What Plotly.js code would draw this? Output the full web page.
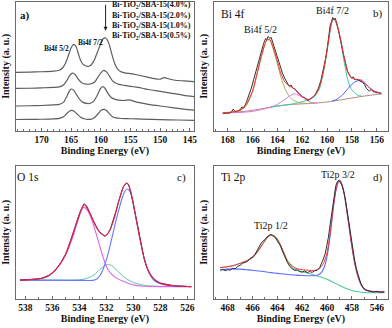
<!DOCTYPE html>
<html>
<head>
<meta charset="utf-8">
<script src="https://cdn.plot.ly/plotly-3.0.1.min.js"></script>
<style>
  html, body { margin: 0; padding: 0; background: #fff; }
  #xps-figure { width: 392px; height: 328px; }
</style>
</head>
<body>
<div id="xps-figure"></div>
<script>
/**
 * XPS spectra, 4 panels: a) Bi 4f survey for four loadings, b) Bi 4f fit,
 * c) O 1s fit, d) Ti 2p fit. Values are [binding energy (eV), intensity (a.u.)].
 */

// ---- a) Bi 4f, Bi-TiO2/SBA-15 series ----
const aLabels = ['4.0%', '2.0%', '1.0%', '0.5%'];
const aSpec40 = [[174.3,45.3],[172,45.5],[170,45.8],[168,46.3],[167,47.0],[166.5,48.5],[166,52],[165.5,58],[165,64.5],[164.6,67],[164.2,65.5],[163.8,60],[163.4,54.5],[163,51.5],[162.6,50.5],[162.2,50],[161.8,50.5],[161.4,52.5],[161,56],[160.5,62],[160,68],[159.6,71.5],[159.2,72],[158.8,69.5],[158.4,64],[158,57],[157.6,51.5],[157.2,48],[156.7,46],[156,45],[155,44.3],[154,43.5],[153,42.5],[152,41.5],[151,40.5],[150,40],[149.3,41.3],[148.5,40.2],[147.5,39.2],[146,38.7],[144.3,38.2]];
const aSpec20 = [[174.3,32.9],[172,33],[170,33.3],[168,33.6],[167,34],[166.3,35.5],[165.8,38.5],[165.3,42.5],[164.8,44.7],[164.3,43.5],[163.8,40],[163.3,37.5],[162.8,36.5],[162.2,36.1],[161.6,36.5],[161,38],[160.5,41.5],[160,45],[159.5,46.8],[159,45.5],[158.5,42],[158,38.5],[157.5,37],[157,36],[156,35.2],[155,34.5],[154,33.8],[153,33],[152,32],[150,30.5],[148,29],[146,27.5],[144.3,26.5]];
const aSpec10 = [[174.3,19.2],[172,19.4],[170,19.6],[168,20],[167,20.5],[166.3,22],[165.8,26],[165.3,31],[165,32.4],[164.6,31.5],[164.1,28],[163.6,24.5],[163,22],[162.4,21.2],[161.8,21.3],[161.2,23],[160.6,27.5],[160.1,32.5],[159.7,34.2],[159.3,33],[158.8,29],[158.3,26],[157.8,24.7],[157,23.8],[156,23.5],[155.2,24],[154.5,23],[153.5,21.8],[152,20.5],[150,19.2],[148,18],[146,16.8],[144.3,16]];
const aSpec05 = [[174.3,8.7],[172,8.8],[170,8.9],[168,9.2],[167,9.6],[166.3,10.8],[165.8,13],[165.3,15.2],[164.9,15.8],[164.5,15.2],[164,13],[163.4,10.5],[162.8,9.3],[162.2,8.8],[161.6,9],[161,10.5],[160.4,13.5],[159.9,16],[159.5,16.6],[159.1,15.8],[158.6,13.5],[158.1,11],[157.5,10],[156.5,9.5],[155,9.3],[153,9],[150,8.6],[147,8.3],[144.3,8]];

// ---- b) Bi 4f fit ----
const bRaw = [[168.35,13.2],[168.1,13.8],[167.9,13.5],[167.7,14.5],[167.55,16.8],[167.4,14.6],[167.2,15.5],[167,16.2],[166.85,18.5],[166.7,17.6],[166.5,22],[166.3,27],[166.1,33],[165.9,40],[165.7,47],[165.5,55],[165.3,62],[165.1,68],[164.95,71.5],[164.85,70.8],[164.75,73.2],[164.6,71.8],[164.5,72.5],[164.35,68],[164.2,62.5],[164,57],[163.8,50],[163.6,45],[163.4,40.5],[163.2,36.5],[163.05,34.5],[162.9,35.5],[162.75,33],[162.6,32.6],[162.45,30.5],[162.3,28.8],[162.1,27.5],[161.95,26],[161.8,25.8],[161.65,24.2],[161.5,23.5],[161.35,24.6],[161.2,25.4],[161.05,27],[160.9,29],[160.7,33],[160.5,39],[160.3,47],[160.1,57],[159.95,67],[159.85,76],[159.75,82],[159.65,84.5],[159.55,88],[159.45,86],[159.35,87.5],[159.2,83],[159.05,77],[158.9,70],[158.7,60],[158.5,52],[158.35,46],[158.2,43.5],[158.05,41],[157.9,41.8],[157.75,39.5],[157.6,40],[157.45,39.2],[157.3,38.5],[157.15,37.5],[157,36],[156.85,33],[156.7,31.5],[156.6,30.8],[156.45,32],[156.3,30.4],[156.1,29.8],[155.9,29.5],[155.7,29.2]];
const bBackground = [[168.4,13.8],[167.5,14.3],[166.5,15.2],[165.5,16.6],[164.5,18.4],[163.5,19.8],[162.5,20.6],[161.5,21.1],[160.5,21.8],[159.5,23],[158.5,24.6],[157.5,26.2],[156.5,27.6],[155.6,28.6]];
const bPeak52 = [[168.4,13.8],[167.5,14.5],[167,15.5],[166.5,19.5],[166,30],[165.6,45],[165.3,57],[165,67],[164.85,70.5],[164.6,70],[164.3,62],[164,52],[163.7,41],[163.4,33],[163.1,27.5],[162.8,24.3],[162.4,22.3],[162,21.5],[161.5,21.2],[161,21.5]];
const bPeakLow = [[168.4,13.8],[167,14.2],[166,15],[165,17],[164.5,18.5],[164,20.5],[163.5,23.5],[163,27],[162.7,28.6],[162.4,28],[162,26],[161.6,23.5],[161.2,21.8],[160.8,21.5]];
const bPeak72 = [[164.5,18.4],[163.5,19.8],[162.8,20.8],[162,22.5],[161.4,24.5],[161,26.5],[160.6,33],[160.3,45],[160,62],[159.8,75],[159.65,83],[159.5,86.5],[159.35,85.5],[159.1,78],[158.85,66],[158.6,52],[158.35,40],[158.1,33],[157.8,29.5],[157.5,27.5],[157.2,26.8]];
const bPeakHigh = [[159.6,23],[159.2,24.5],[158.8,27.5],[158.3,33],[157.9,37],[157.5,39],[157.2,38.5],[156.9,36],[156.6,33.5],[156.2,30.8],[155.8,29.5],[155.6,29]];
const bEnvelope = [[168.4,13.8],[167.5,14.8],[167,16],[166.5,20.5],[166,31],[165.6,46],[165.3,57.5],[165,67.5],[164.8,71],[164.6,70.8],[164.3,63.5],[164,54],[163.7,44],[163.4,38],[163.1,35],[162.8,33.5],[162.5,31.5],[162.2,28.5],[161.9,26],[161.6,24.5],[161.4,24.3],[161.1,26.5],[160.8,30],[160.6,34.5],[160.3,46],[160,62.5],[159.8,75.5],[159.65,83.5],[159.5,87],[159.35,86],[159.1,79],[158.85,68],[158.6,55.5],[158.35,46],[158.1,41.5],[157.8,40],[157.5,39.8],[157.2,39],[156.9,36.5],[156.6,33.5],[156.2,30.5],[155.7,29.3]];

// ---- c) O 1s fit ----
const cRaw = [[538.4,14.2],[538,14.5],[537.6,14.3],[537.2,15],[536.8,15.5],[536.5,16.5],[536.2,18],[535.9,20.5],[535.6,24],[535.3,28.5],[535,34],[534.7,42.5],[534.4,52],[534.1,61],[533.9,66.5],[533.75,69.5],[533.65,71.5],[533.55,70.5],[533.4,68],[533.2,64],[533,59.5],[532.8,55],[532.6,51.5],[532.4,49.5],[532.25,48],[532.1,47],[532,48],[531.85,49.5],[531.7,52.5],[531.5,58.5],[531.3,65.5],[531.1,73],[530.9,79.5],[530.75,84],[530.6,86],[530.5,87],[530.4,86.5],[530.3,84],[530.15,78.5],[530,71],[529.8,61],[529.6,50.5],[529.4,39.5],[529.2,30.5],[529,24],[528.8,19.5],[528.6,16.5],[528.3,13.5],[528,12],[527.6,11],[527.2,10.3],[526.8,9.8],[526.4,9.7],[526,9.4],[525.7,9.3]];
const cPeakOH = [[538.4,14.2],[537,15],[536.5,16.4],[536,19.5],[535.5,25],[535,33.5],[534.5,46],[534.1,59],[533.8,67.5],[533.65,68.75],[533.4,66.5],[533.1,60],[532.8,50.5],[532.5,40],[532.2,30],[531.9,22.5],[531.6,18.5],[531.2,15.5],[530.8,13.5],[530.3,11.5],[529.8,10.2],[529.2,9.6],[528,9.3],[525.7,9.2]];
const cPeakMid = [[538.4,14.2],[536,14.2],[534.5,14.2],[534,14.4],[533.5,15.3],[533,17.5],[532.6,21],[532.2,24.5],[531.9,26],[531.6,25],[531.2,21.5],[530.8,17.5],[530.4,14.5],[530,12.5],[529.5,11],[529,10],[528,9.5],[525.7,9.2]];
const cPeakLattice = [[538.4,14.2],[534,14],[533,14],[532.7,15],[532.45,18],[532.2,23.5],[531.95,31],[531.7,41],[531.4,54],[531.1,66],[530.85,75],[530.65,80.5],[530.45,82.5],[530.25,80.5],[530.05,74],[529.8,61],[529.55,48],[529.3,35],[529,23.5],[528.7,17],[528.4,13.5],[528,11.5],[527.5,10.4],[527,9.8],[526,9.4],[525.7,9.3]];
const cEnvelope = [[538.4,14.2],[537.2,14.9],[536.5,16.4],[536,19.6],[535.5,25.3],[535,34],[534.5,48],[534.1,61],[533.8,68.5],[533.65,70.8],[533.45,69.5],[533.2,64],[532.9,57],[532.6,51.5],[532.3,48.3],[532.1,47.5],[531.9,49],[531.7,52.5],[531.4,61],[531.1,72.5],[530.85,81],[530.65,85.5],[530.5,86.8],[530.35,85.5],[530.15,79],[529.95,69],[529.7,55],[529.45,42],[529.2,30.5],[528.9,21.5],[528.6,16.5],[528.2,13],[527.7,11],[527,10],[526,9.4],[525.7,9.3]];

// ---- d) Ti 2p fit ----
const dRaw = [[468.6,21.5],[468.4,22.3],[468.2,21.2],[468,22],[467.8,21.6],[467.6,23],[467.4,22.5],[467.2,24.5],[467,25.2],[466.8,26.8],[466.6,27.5],[466.4,28.2],[466.2,30.5],[466,31.5],[465.8,33.5],[465.6,37],[465.45,40.5],[465.3,42],[465.15,43.5],[465,44.5],[464.85,46.5],[464.7,47.5],[464.55,48.5],[464.4,47.5],[464.25,46.8],[464.1,45],[463.9,42],[463.75,39.8],[463.6,36],[463.4,31.5],[463.2,27.5],[463,24.5],[462.8,22.5],[462.6,21.5],[462.4,21.8],[462.2,20.5],[462,20.2],[461.8,21],[461.6,19.8],[461.4,20.6],[461.2,20],[461,21.2],[460.8,21.5],[460.6,23.5],[460.45,26.5],[460.3,30],[460.15,34],[460,40],[459.9,46],[459.8,53],[459.7,60],[459.6,68],[459.5,75],[459.4,81],[459.3,85],[459.2,87.5],[459.1,88.8],[459,88.5],[458.9,87],[458.8,85],[458.7,82],[458.55,76],[458.4,67],[458.25,57],[458.1,48],[457.95,38],[457.8,30],[457.65,23],[457.5,17.5],[457.3,12],[457.1,8.5],[456.9,6.8],[456.6,6],[456.3,5.2],[456,5.8],[455.7,5.2],[455.4,5.4]];
const dPeak12 = [[468.6,23.5],[468,24.2],[467.5,25.2],[467,26.8],[466.5,28.5],[466,31],[465.6,35.5],[465.2,41],[464.9,45],[464.6,47.8],[464.4,48],[464.1,46],[463.8,41.5],[463.5,35],[463.2,28.5],[462.9,24.5],[462.5,21.8],[462,20.5],[461.5,19.3],[461,17.8],[460.5,16.5],[460,14.8],[459.5,12.5],[459,10.2],[458.5,8],[458,6.4],[457.5,5.4],[457,4.9],[456,4.7],[455.4,4.7]];
const dPeak32 = [[468.6,21.8],[468,22.4],[467.5,22.6],[467,22.4],[466.5,22],[466,21.6],[465.5,21],[465,20.5],[464.5,19.8],[464,19.2],[463.5,18.7],[463,18.2],[462.5,17.9],[462,17.6],[461.5,17.4],[461,17.5],[460.7,18.2],[460.45,20],[460.25,23.5],[460.05,30],[459.9,37.5],[459.75,48],[459.6,60],[459.45,72],[459.3,81],[459.15,86.5],[459.05,88.5],[458.95,88.5],[458.8,85.5],[458.65,80],[458.5,71.5],[458.35,62],[458.2,52],[458.05,42],[457.9,33],[457.75,25.5],[457.6,19.5],[457.4,13.5],[457.2,9.5],[457,7.3],[456.7,6],[456.2,5.4],[455.4,5.2]];
const dEnvelope = [[468.6,23.5],[467.5,25.2],[466.5,28.5],[466,31],[465.6,35.5],[465.2,41],[464.9,45],[464.6,47.8],[464.4,48],[464.1,46],[463.8,41.5],[463.5,35],[463.2,29],[462.9,25.5],[462.5,23],[462,22],[461.5,21.5],[461,21.5],[460.7,22.5],[460.45,24.5],[460.25,27.5],[460.05,33],[459.9,40],[459.75,49.5],[459.6,61],[459.45,72.5],[459.3,81.5],[459.15,87],[459.05,89],[458.95,89],[458.8,86],[458.65,80.5],[458.5,72],[458.35,62.5],[458.2,52.5],[458.05,42.5],[457.9,33.5],[457.75,26],[457.6,20],[457.4,14],[457.2,10],[457,7.8],[456.7,6.3],[456.2,5.6],[455.4,5.3]];
// the original figure prints "546" under the 456 tick
const dTickVals = [468, 466, 464, 462, 460, 458, 456];
const dTickText = ['468', '466', '464', '462', '460', '458', '546'];

const SERIF = 'Liberation Serif, Times New Roman, serif';
const FRAME = '#6b6b6b';

function col(pts, i) {
    return pts.map(function(p) { return p[i]; });
}

function trace(pts, n, color, width, smooth) {
    return {
        x: col(pts, 0), y: col(pts, 1),
        xaxis: 'x' + (n === 1 ? '' : n), yaxis: 'y' + (n === 1 ? '' : n),
        type: 'scatter', mode: 'lines', hoverinfo: 'skip',
        line: smooth ? { color: color, width: width, shape: 'spline', smoothing: 0.6 } : { color: color, width: width }
    };
}

function energyAxis(domain, anchor, range, dtick, minorDtick) {
    return {
        domain: domain, anchor: anchor, range: range,
        dtick: dtick, tick0: 0,
        showline: true, mirror: true, linecolor: FRAME, linewidth: 1,
        ticks: 'inside', ticklen: 3, tickwidth: 1, tickcolor: FRAME,
        minor: { ticks: 'inside', ticklen: 2, dtick: minorDtick, tickcolor: FRAME, showgrid: false },
        showgrid: false, zeroline: false,
        tickfont: { family: SERIF, size: 9.5, color: '#111', weight: 'bold' },
        title: { text: 'Binding Energy (eV)', standoff: 2, font: { family: SERIF, size: 10, color: '#111', weight: 'bold' } }
    };
}

function intensityAxis(domain, anchor) {
    return {
        domain: domain, anchor: anchor, range: [0, 100],
        showline: true, mirror: true, linecolor: FRAME, linewidth: 1,
        ticks: '', showticklabels: false, showgrid: false, zeroline: false,
        title: { text: 'Intensity (a. u.)', standoff: 3, font: { family: SERIF, size: 10, color: '#111', weight: 'bold' } }
    };
}

function note(n, x, y, text, size, bold, anchor) {
    return {
        xref: 'x' + (n === 1 ? '' : n), yref: 'y' + (n === 1 ? '' : n),
        x: x, y: y, text: text, showarrow: false, xanchor: anchor || 'center',
        font: { family: SERIF, size: size, color: '#111', weight: bold ? 'bold' : 'normal' }
    };
}

function renderXpsFigure() {
    const grey = '#5e5e5e';
    const data = [
        trace(aSpec40, 1, grey, 1.2, true),
        trace(aSpec20, 1, grey, 1.2, true),
        trace(aSpec10, 1, grey, 1.2, true),
        trace(aSpec05, 1, grey, 1.2, true),

        trace(bBackground, 2, '#b5897c', 1, true),
        trace(bPeakLow, 2, '#e070e8', 1, true),
        trace(bPeak72, 2, '#3ec8a0', 1, true),
        trace(bPeakHigh, 2, '#4a5cff', 1, true),
        trace(bPeak52, 2, '#a3b25a', 1, true),
        trace(bRaw, 2, '#303030', 1, false),
        trace(bEnvelope, 2, '#ff2a2a', 1, true),

        trace(cPeakMid, 3, '#55c9a0', 1, true),
        trace(cPeakOH, 3, '#dd66e6', 1.1, true),
        trace(cPeakLattice, 3, '#6677ff', 1.1, true),
        trace(cRaw, 3, '#303030', 1, false),
        trace(cEnvelope, 3, '#e8204a', 1.1, true),

        trace(dPeak12, 4, '#50c89a', 1.1, true),
        trace(dPeak32, 4, '#5b6bff', 1.1, true),
        trace(dEnvelope, 4, '#ff3030', 1, true),
        trace(dRaw, 4, '#303030', 1, false)
    ];

    const xa = energyAxis([0.0408, 0.4949], 'y', [174.3, 144.3], 5, 1);
    const xb = energyAxis([0.5459, 0.9898], 'y2', [169.1, 155.1], 2, 1);
    const xc = energyAxis([0.0408, 0.4949], 'y3', [538.7, 525.5], 2, 1);
    const xd = energyAxis([0.5459, 0.9898], 'y4', [469.1, 455.1], 2, 1);
    xd.tickmode = 'array';
    xd.tickvals = dTickVals;
    xd.ticktext = dTickText;

    const annotations = [
        note(1, 172.8, 89.5, 'a)', 11, true),
        note(1, 167.4, 64.2, 'Bi4f 5/2', 7.5, true),
        note(1, 161.66, 68.2, 'Bi4f 7/2', 7.5, true),
        note(2, 167.6, 90.9, 'Bi 4f', 11.5, false),
        note(2, 155.93, 90.9, 'b)', 11, false),
        note(2, 165.32, 78.4, 'Bi4f 5/2', 10, false),
        note(2, 159.55, 93.5, 'Bi4f 7/2', 10, false),
        note(3, 537.79, 91.25, 'O 1s', 11.5, false),
        note(3, 526.43, 91.25, 'c)', 11, false),
        note(4, 467.6, 91.25, 'Ti 2p', 11.5, false),
        note(4, 455.93, 91.25, 'd)', 11, false),
        note(4, 464.51, 55, 'Ti2p 1/2', 10, false),
        note(4, 459.15, 93.75, 'Ti2p 3/2', 10, false),
        // loading arrow, highest loading on top
        { xref: 'x', yref: 'y', axref: 'x', ayref: 'y', x: 159.2, y: 77.6, ax: 159.2, ay: 99,
          text: '', showarrow: true, arrowhead: 2, arrowsize: 0.8, arrowwidth: 1, arrowcolor: '#222' }
    ];
    const legendY = [97.4, 89.5, 81.6, 73.7];
    aLabels.forEach(function(lbl, i) {
        annotations.push(note(1, 158.46, legendY[i], 'Bi-TiO<sub>2</sub>/SBA-15(' + lbl + ')', 8, true, 'left'));
    });

    const layout = {
        width: 392, height: 328,
        margin: { l: 0, r: 0, t: 0, b: 0 },
        paper_bgcolor: '#fff', plot_bgcolor: '#fff',
        showlegend: false,
        xaxis: xa, yaxis: intensityAxis([0.6015, 0.9939], 'x'),
        xaxis2: xb, yaxis2: intensityAxis([0.6015, 0.9939], 'x2'),
        xaxis3: xc, yaxis3: intensityAxis([0.0884, 0.4948], 'x3'),
        xaxis4: xd, yaxis4: intensityAxis([0.0884, 0.4948], 'x4'),
        annotations: annotations
    };

    Plotly.newPlot('xps-figure', data, layout, { displayModeBar: false, staticPlot: true });
}

renderXpsFigure();
</script>
</body>
</html>
